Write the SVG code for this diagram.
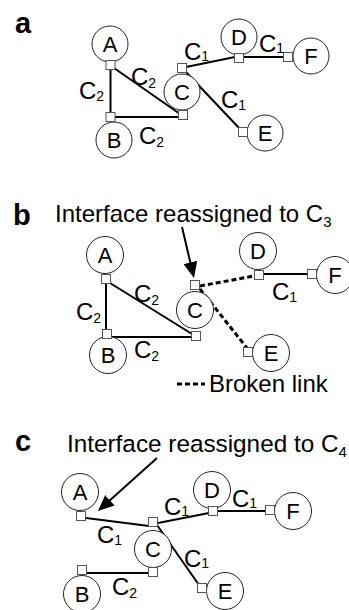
<svg xmlns="http://www.w3.org/2000/svg" width="349" height="610" viewBox="0 0 349 610">
  <style>
    text { font-family: "Liberation Sans", Arial, Helvetica, sans-serif; fill: #000; }
    .panel { font-size: 29px; font-weight: bold; }
    .node circle { fill: #fff; stroke: #222; stroke-width: 1; }
    .node text { font-size: 22px; text-anchor: middle; }
    .port { fill: #fff; stroke: #555; stroke-width: 1; }
    .lbl { font-size: 24px; }
    .sub { font-size: 14px; }
    .note { font-size: 24px; }
    .note .sub { font-size: 15px; }
    .edge { stroke: #000; stroke-width: 2; fill: none; }
    .broken { stroke: #000; stroke-width: 3; stroke-dasharray: 5 3; fill: none; }
    .pointer { stroke: #000; stroke-width: 2; fill: none; marker-end: url(#head); }
  </style>
  <defs>
    <marker id="head" markerUnits="userSpaceOnUse" markerWidth="16" markerHeight="14" refX="13" refY="7" orient="auto">
      <path d="M0,0 L16,7 L0,14 Z" fill="#000"/>
    </marker>
  </defs>

  <rect width="349" height="610" fill="#fff"/>

  <!-- panel a -->
  <text class="panel" x="15" y="33">a</text>
  <g id="a-edges">
    <line class="edge" x1="110.5" y1="69" x2="110.5" y2="113"/>
    <line class="edge" x1="114" y1="68" x2="180" y2="114"/>
    <line class="edge" x1="115" y1="117" x2="179" y2="117"/>
    <line class="edge" x1="186" y1="67" x2="235" y2="57"/>
    <line class="edge" x1="243" y1="57" x2="283" y2="57"/>
    <line class="edge" x1="185" y1="71" x2="240" y2="129"/>
  </g>
  <g id="a-A" class="node"><circle cx="110" cy="44" r="18"/><text x="110" y="51.5">A</text><rect class="port" x="106" y="60.5" width="9" height="9"/></g>
  <g id="a-B" class="node"><circle cx="114" cy="140" r="18"/><text x="114" y="147.5">B</text><rect class="port" x="106" y="112.5" width="9" height="9"/></g>
  <g id="a-C" class="node"><circle cx="182" cy="92" r="18"/><text x="182" y="99.5">C</text><rect class="port" x="177.5" y="63.5" width="9" height="9"/><rect class="port" x="178.5" y="110.5" width="9" height="9"/></g>
  <g id="a-D" class="node"><circle cx="239" cy="37" r="18"/><text x="239" y="44.5">D</text><rect class="port" x="234.5" y="53.5" width="9" height="9"/></g>
  <g id="a-E" class="node"><circle cx="265" cy="133" r="18"/><text x="265" y="140.5">E</text><rect class="port" x="238.5" y="127.5" width="9" height="9"/></g>
  <g id="a-F" class="node"><circle cx="311" cy="56" r="18"/><text x="311" y="63.5">F</text><rect class="port" x="283.5" y="52.5" width="9" height="9"/></g>
  <g id="a-labels">
    <text class="lbl" x="79" y="99">C<tspan class="sub" dy="2">2</tspan></text>
    <text class="lbl" x="131" y="85">C<tspan class="sub" dy="3">2</tspan></text>
    <text class="lbl" x="139" y="144">C<tspan class="sub" dy="3">2</tspan></text>
    <text class="lbl" x="184" y="60">C<tspan class="sub" dy="1">1</tspan></text>
    <text class="lbl" x="259" y="52">C<tspan class="sub" dy="1">1</tspan></text>
    <text class="lbl" x="221" y="108">C<tspan class="sub" dy="2">1</tspan></text>
  </g>

  <!-- panel b -->
  <text class="panel" x="13" y="225">b</text>
  <text class="note" x="55" y="222">Interface reassigned to C<tspan class="sub" dy="5">3</tspan></text>
  <g id="b-edges">
    <line class="edge" x1="106" y1="283" x2="106" y2="330"/>
    <line class="edge" x1="110" y1="283" x2="192" y2="334"/>
    <line class="edge" x1="111" y1="337" x2="192" y2="337"/>
    <line class="broken" x1="200" y1="286" x2="254" y2="276"/>
    <line class="broken" x1="200" y1="289" x2="247" y2="348"/>
    <line class="edge" x1="263" y1="274" x2="308" y2="274"/>
    <line class="pointer" x1="182" y1="227" x2="193.3" y2="275.1"/>
  </g>
  <g id="b-A" class="node"><circle cx="105" cy="255" r="18.5"/><text x="105" y="262.5">A</text><rect class="port" x="101.5" y="274.5" width="9" height="9"/></g>
  <g id="b-B" class="node"><circle cx="108" cy="355" r="18.5"/><text x="108" y="362.5">B</text><rect class="port" x="102.5" y="329.5" width="9" height="9"/></g>
  <g id="b-C" class="node"><circle cx="195" cy="310" r="18.5"/><text x="195" y="317.5">C</text><rect class="port" x="190.5" y="280.5" width="9" height="9"/><rect class="port" x="191.5" y="331.5" width="9" height="9"/></g>
  <g id="b-D" class="node"><circle cx="258" cy="251" r="18.5"/><text x="258" y="258.5">D</text><rect class="port" x="254.5" y="270.5" width="9" height="9"/></g>
  <g id="b-E" class="node"><circle cx="271" cy="353" r="18.5"/><text x="271" y="360.5">E</text><rect class="port" x="243.5" y="347.5" width="9" height="9"/></g>
  <g id="b-F" class="node"><circle cx="335" cy="275" r="18.5"/><text x="335" y="282.5">F</text><rect class="port" x="307.5" y="269.5" width="9" height="9"/></g>
  <g id="b-labels">
    <text class="lbl" x="76" y="320">C<tspan class="sub" dy="3">2</tspan></text>
    <text class="lbl" x="134" y="302">C<tspan class="sub" dy="3">2</tspan></text>
    <text class="lbl" x="134" y="358">C<tspan class="sub" dy="3">2</tspan></text>
    <text class="lbl" x="272" y="300">C<tspan class="sub" dy="2">1</tspan></text>
  </g>
  <g id="b-legend">
    <line class="broken" x1="177" y1="384" x2="205" y2="384"/>
    <text class="note" x="209" y="392">Broken link</text>
  </g>

  <!-- panel c -->
  <text class="panel" x="15" y="451">c</text>
  <text class="note" x="67" y="452" style="font-size:24.3px">Interface reassigned to C<tspan class="sub" dy="5">4</tspan></text>
  <g id="c-edges">
    <line class="edge" x1="86" y1="518" x2="149" y2="526"/>
    <line class="edge" x1="158" y1="523" x2="209" y2="513"/>
    <line class="edge" x1="217" y1="511" x2="266" y2="511"/>
    <line class="edge" x1="157" y1="525" x2="199" y2="585"/>
    <line class="edge" x1="86" y1="573" x2="149" y2="573"/>
    <line class="pointer" x1="157" y1="458" x2="100.2" y2="509"/>
  </g>
  <g id="c-A" class="node"><circle cx="80" cy="492" r="18.5"/><text x="80" y="499.5">A</text><rect class="port" x="76.5" y="511.5" width="9" height="9"/></g>
  <g id="c-B" class="node"><circle cx="82" cy="594" r="18.5"/><text x="82" y="601.5">B</text><rect class="port" x="77.5" y="565.5" width="9" height="9"/></g>
  <g id="c-C" class="node"><circle cx="153" cy="549" r="18.5"/><text x="153" y="556.5">C</text><rect class="port" x="148.5" y="517.5" width="9" height="9"/><rect class="port" x="148.5" y="567.5" width="9" height="9"/></g>
  <g id="c-D" class="node"><circle cx="212" cy="490" r="18.5"/><text x="212" y="497.5">D</text><rect class="port" x="208.5" y="506.5" width="9" height="9"/></g>
  <g id="c-E" class="node"><circle cx="225" cy="591" r="18.5"/><text x="225" y="598.5">E</text><rect class="port" x="197.5" y="583.5" width="9" height="9"/></g>
  <g id="c-F" class="node"><circle cx="293" cy="511" r="18.5"/><text x="293" y="518.5">F</text><rect class="port" x="265.5" y="505.5" width="9" height="9"/></g>
  <g id="c-labels">
    <text class="lbl" x="97" y="543">C<tspan class="sub" dy="2">1</tspan></text>
    <text class="lbl" x="164" y="515">C<tspan class="sub" dy="1">1</tspan></text>
    <text class="lbl" x="232" y="507">C<tspan class="sub" dy="1">1</tspan></text>
    <text class="lbl" x="184" y="567">C<tspan class="sub" dy="1">1</tspan></text>
    <text class="lbl" x="112" y="595">C<tspan class="sub" dy="3">2</tspan></text>
  </g>
</svg>
